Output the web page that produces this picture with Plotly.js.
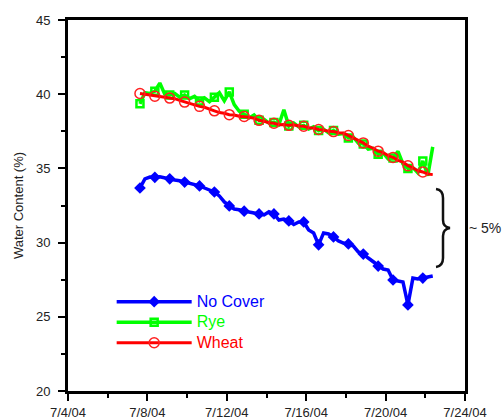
<!DOCTYPE html>
<html>
<head>
<meta charset="utf-8">
<script src="https://cdn.plot.ly/plotly-3.0.1.min.js"></script>
<style>html,body{margin:0;padding:0;background:#fff;}#chart{width:504px;height:419px;}</style>
</head>
<body>
<div id="chart"></div>
<script>
// Readings every 6 hours, starting 7/7/04 15:00
const startTime = Date.UTC(2004, 6, 7, 15, 0);
const stepHours = 6;

const noCover = [33.68,34.29,34.42,34.40,34.44,34.35,34.30,34.22,34.17,34.08,
  34.02,33.95,33.82,33.68,33.55,33.41,33.14,32.74,32.47,32.26,
  32.22,32.12,32.06,31.99,31.93,31.86,32.08,31.93,31.52,31.59,
  31.46,31.22,31.39,31.39,30.85,30.65,29.85,30.65,30.58,30.38,
  30.11,29.97,29.91,29.77,29.37,29.23,28.96,28.69,28.42,28.22,
  28.15,27.48,27.41,27.35,25.80,27.61,27.55,27.61,27.68,27.75];

const rye = [39.35,40.10,40.05,40.20,40.75,40.00,39.95,40.05,39.80,39.95,
  39.70,39.85,39.55,39.75,39.50,39.80,40.10,39.55,40.15,39.30,
  38.85,38.65,38.40,38.60,38.25,38.30,38.05,38.10,37.95,38.95,
  37.85,38.05,37.80,37.90,37.65,37.80,37.55,37.65,37.40,37.55,
  37.30,37.35,37.05,37.10,36.70,36.65,36.30,36.35,35.95,36.05,
  35.65,35.70,36.15,35.30,35.00,35.05,34.70,35.50,34.50,36.45];

const wheat = [40.05,40.00,39.92,39.86,39.80,39.80,39.74,39.70,39.58,39.47,
  39.38,39.30,39.18,39.12,38.98,38.88,38.76,38.72,38.62,38.60,
  38.52,38.50,38.44,38.38,38.24,38.18,38.08,38.04,37.94,37.95,
  37.90,37.94,37.86,37.84,37.74,37.72,37.62,37.58,37.50,37.48,
  37.40,37.38,37.22,37.06,36.86,36.72,36.50,36.36,36.16,36.06,
  35.86,35.74,35.54,35.42,35.18,35.04,34.84,34.76,34.62,34.58];

const seriesNames = ['No Cover', 'Rye', 'Wheat'];
const xTickStart = '2004-07-04';
const xRange = ['2004-07-04', '2004-07-24'];
const yRange = [20, 45];

function timeAt(i) {
  const d = new Date(startTime + i * stepHours * 3600000);
  return d.toISOString().slice(0, 16).replace('T', ' ');
}
const times = noCover.map((_, i) => timeAt(i));
const markEvery = 3;
const markIdx = times.map((_, i) => i).filter(i => i % markEvery === 0);

const font = 'Liberation Sans, Arial, sans-serif';
function mkTrace(vals, name, color, width, marker) {
  return {
    type: 'scatter', mode: 'lines+markers', x: times, y: vals,
    name: '<span style="color:' + color + ';font-size:16px">' + name + '</span>',
    line: {color: color, width: width},
    marker: marker,
    selectedpoints: markIdx,
    selected: {marker: {opacity: 1}},
    unselected: {marker: {opacity: 0}},
    hoverinfo: 'skip'
  };
}

const data = [
  mkTrace(noCover, seriesNames[0], '#0000ff', 3.5, {symbol: 'diamond', size: 9, color: '#0000ff'}),
  mkTrace(rye, seriesNames[1], '#00ff00', 3.5, {symbol: 'square-open', size: 7, color: '#00ff00', line: {width: 2.5, color: '#00ff00'}}),
  mkTrace(wheat, seriesNames[2], '#ff0000', 3, {symbol: 'circle-open', size: 10, color: '#ff2020', line: {width: 1.5, color: '#ff2020'}})
];

const DAY = 86400000;
const layout = {
  width: 504, height: 419,
  margin: {l: 68, r: 39, t: 20, b: 28, pad: 0},
  paper_bgcolor: '#ffffff', plot_bgcolor: '#ffffff',
  font: {family: font, size: 13, color: '#222'},
  showlegend: true,
  legend: {x: 0.11, y: 0.282, xanchor: 'left', yanchor: 'top',
    bgcolor: 'rgba(0,0,0,0)', itemwidth: 75, font: {size: 13.5, family: font}},
  xaxis: {
    type: 'date', range: xRange, tickmode: 'linear', tick0: xTickStart, dtick: 4 * DAY,
    tickformat: '%-m/%-d/%y', ticks: 'outside', ticklen: 7, tickwidth: 2, tickcolor: '#000',
    showline: true, linewidth: 3, linecolor: '#000', mirror: true, showgrid: false, zeroline: false,
    minor: {dtick: 2 * DAY, ticks: 'outside', ticklen: 4, tickwidth: 2, tickcolor: '#000', showgrid: false},
    tickfont: {size: 13, color: '#222', family: font}, fixedrange: true
  },
  yaxis: {
    range: yRange, tickmode: 'linear', tick0: 20, dtick: 5,
    ticks: 'outside', ticklen: 7, tickwidth: 2, tickcolor: '#000', ticklabelstandoff: 5,
    showline: true, linewidth: 3, linecolor: '#000', mirror: true, showgrid: false, zeroline: false,
    minor: {dtick: 2.5, ticks: 'outside', ticklen: 4, tickwidth: 2, tickcolor: '#000', showgrid: false},
    tickfont: {size: 13, color: '#222', family: font},
    title: {text: 'Water Content (%)', font: {size: 13, color: '#222', family: font}, standoff: 10},
    fixedrange: true
  },
  shapes: [{
    type: 'path', xref: 'paper', yref: 'paper',
    path: 'M0.927,0.5445 Q0.9446,0.5418 0.9446,0.5202 L0.9446,0.4609 Q0.9446,0.4420 0.9622,0.4394 Q0.9446,0.4367 0.9446,0.4178 L0.9446,0.3585 Q0.9446,0.3369 0.927,0.3342',
    line: {color: '#111', width: 2.5}
  }],
  annotations: [{
    xref: 'paper', yref: 'paper', x: 1.005, y: 0.4394, xanchor: 'left', yanchor: 'middle',
    text: '~ 5%', showarrow: false, font: {size: 14, color: '#222', family: font}
  }]
};

Plotly.newPlot('chart', data, layout, {displayModeBar: false, staticPlot: true});
</script>
</body>
</html>
